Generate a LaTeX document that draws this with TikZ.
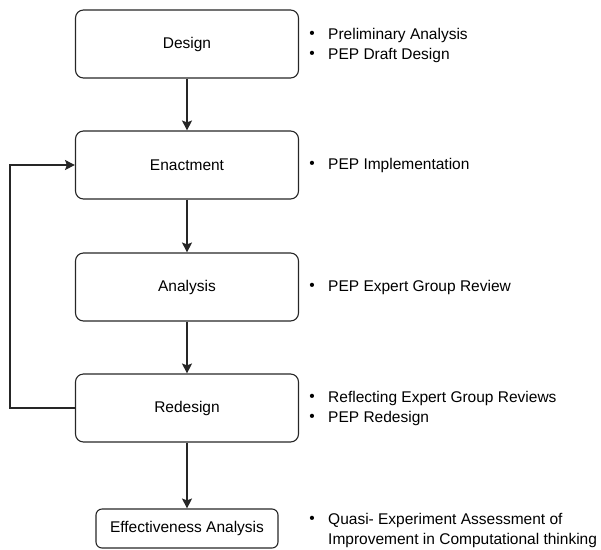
\documentclass[tikz,border=0pt]{standalone}
\usepackage{fontspec}
\setmainfont{Liberation Sans}
\usetikzlibrary{arrows.meta}

\tikzset{
  stage/.style={draw=black!85, rounded corners=8pt, line width=1.1pt,
    minimum width=223pt, minimum height=68pt, inner sep=0pt},
  item/.style={anchor=west, inner sep=0pt, align=left},
  dot/.style={inner sep=0pt},
  flow/.style={draw=black!85, line width=1.1pt,
    -{Stealth[length=10pt,width=10pt,inset=2pt]}}
}

\begin{document}
\begin{tikzpicture}[x=1pt,y=-1pt,font=\fontsize{15.5}{20}\selectfont]
            \useasboundingbox (0,0) rectangle (601,549);
            % stages
            \node[stage] (design) at (187,44) {Design};
            \node[stage] (enact) at (187,165) {Enactment};
            \node[stage] (anal) at (187,287) {Analysis};
            \node[stage] (redesign) at (187,408) {Redesign};
            \node[stage, minimum width=182pt, minimum height=39pt,
                rounded corners=6pt] (effect) at (187,528.5)
                {Effectiveness Analysis};
            % flow
            \draw[flow] (design) -- (enact);
            \draw[flow] (enact) -- (anal);
            \draw[flow] (anal) -- (redesign);
            \draw[flow] (redesign) -- (effect);
            \coordinate (back) at (10,408);
            \draw[flow] (redesign.west) -- (back) |- (enact.west);
            % notes
            \node[dot] (b1) at (312,35) {•};
            \node[item] (n1) at (328,35) {Preliminary Analysis};
            \node[dot] (b2) at (312,55) {•};
            \node[item] (n2) at (328,55) {PEP Draft Design};
            \node[dot] (b3) at (312,165) {•};
            \node[item] (n3) at (328,165) {PEP Implementation};
            \node[dot] (b4) at (312,287) {•};
            \node[item] (n4) at (328,287) {PEP Expert Group Review};
            \node[dot] (b5) at (312,398) {•};
            \node[item] (n5) at (328,398) {Reflecting Expert Group Reviews};
            \node[dot] (b6) at (312,418) {•};
            \node[item] (n6) at (328,418) {PEP Redesign};
            \node[dot] (b7) at (312,520) {•};
            \node[item] (n7) at (328,530)
                {Quasi- Experiment Assessment of\\
                 Improvement in Computational thinking};
        \end{tikzpicture}
\end{document}
